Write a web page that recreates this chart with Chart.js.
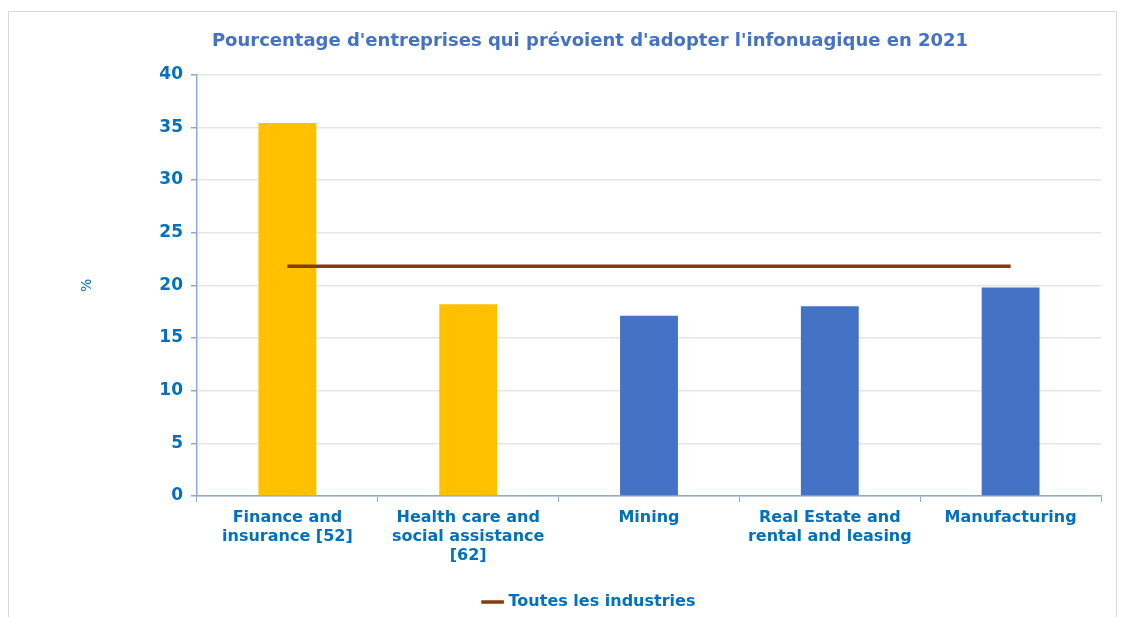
<!DOCTYPE html>
<html>
<head>
<meta charset="utf-8">
<script src="https://cdn.jsdelivr.net/npm/chart.js@4.4.0/dist/chart.umd.min.js"></script>
<style>
html,body{margin:0;padding:0;background:#fff;overflow:hidden;}
#wrap{position:relative;width:1126px;height:617px;overflow:hidden;}
#frame{position:absolute;left:8px;top:11px;width:1109px;height:620px;border:1px solid #d9d9d9;box-sizing:border-box;}
canvas{position:absolute;left:0;top:0;}
</style>
</head>
<body>
<div id="wrap">
<div id="frame"></div>
<canvas id="c" width="1126" height="620"></canvas>
</div>
<script>
const categories = [["Finance and","insurance [52]"],["Health care and","social assistance","[62]"],["Mining"],["Real Estate and","rental and leasing"],["Manufacturing"]];
const industryValues = [35.4, 18.2, 17.1, 18.0, 19.8];
const allIndustriesValues = [21.8, 21.8, 21.8, 21.8, 21.8];
const barColors = ["#FFC000","#FFC000","#4472C4","#4472C4","#4472C4"];
const yTicks = [0,5,10,15,20,25,30,35,40];
const titleText = "Pourcentage d'entreprises qui prévoient d'adopter l'infonuagique en 2021";
const lineLabel = "Toutes les industries";

const FONT = "'DejaVu Sans', Verdana, sans-serif";
new Chart(document.getElementById('c'), {
  data: {
    labels: categories,
    datasets: [
      {type:'line', label: lineLabel, data: allIndustriesValues, borderColor:'#843C0C', backgroundColor:'#843C0C', borderWidth:3.5, pointRadius:0, order:0},
      {type:'bar', label:'Industries', data: industryValues, backgroundColor: barColors, barPercentage:0.32, categoryPercentage:1, order:1}
    ]
  },
  options: {
    responsive:false, animation:false,
    layout:{padding:{left:79, right:25, top:31, bottom:0}},
    plugins:{
      title:{display:true, text:titleText, color:'#4472C4', font:{family:FONT, size:18, weight:'bold'}, padding:{top:0,bottom:22}},
      legend:{position:'bottom', labels:{filter:(it)=>it.text===lineLabel, usePointStyle:true, pointStyle:'line', boxWidth:33, color:'#0070C0', font:{family:FONT,size:16,weight:'bold'}, padding:6}},
      tooltip:{enabled:false}
    },
    scales:{
      x:{
        grid:{display:true, drawOnChartArea:false, offset:true, tickLength:6, tickColor:'#8EA9DB'},
        border:{color:'#8EA9DB', width:1.5},
        ticks:{color:'#0070C0', font:{family:FONT,size:16,weight:'bold'}, padding:6, maxRotation:0, autoSkip:false},
        afterFit:(s)=>{s.height=92;}
      },
      y:{
        min:0, max:40,
        afterBuildTicks:(s)=>{s.ticks=yTicks.map(v=>({value:v}));},
        grid:{color:'#E6E6E6', lineWidth:1.5, tickLength:6, tickColor:'#8EA9DB'},
        border:{color:'#8EA9DB', width:1.5},
        ticks:{color:'#0070C0', font:{family:FONT,size:17,weight:'bold'}, padding:8},
        title:{display:true, text:'%', color:'#0070C0', font:{family:FONT,size:14}, padding:0},
        afterFit:(s)=>{s.width=118;}
      }
    }
  }
});
</script>
</body>
</html>
